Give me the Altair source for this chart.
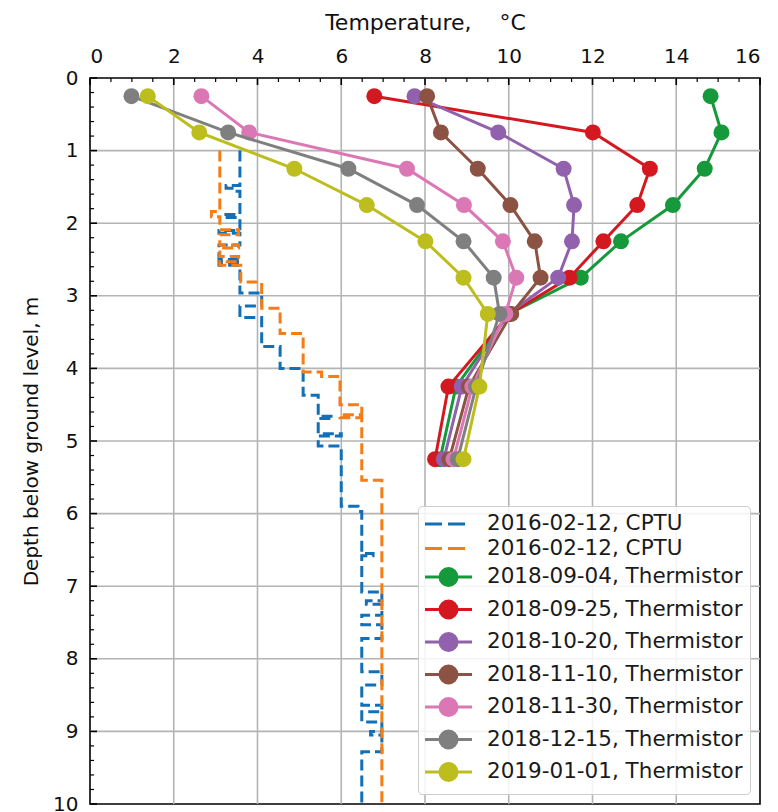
import altair as alt
import pandas as pd

# ---------------- data ----------------
therm_depths = [0.25, 0.75, 1.25, 1.75, 2.25, 2.75, 3.25, 4.25, 5.25]
therm_names = [
    "2018-09-04, Thermistor", "2018-09-25, Thermistor", "2018-10-20, Thermistor",
    "2018-11-10, Thermistor", "2018-11-30, Thermistor", "2018-12-15, Thermistor",
    "2019-01-01, Thermistor",
]
t_0904 = [14.82, 15.08, 14.68, 13.92, 12.68, 11.72, 10.00, 8.74, 8.36]
t_0925 = [6.79, 12.01, 13.37, 13.07, 12.26, 11.45, 10.02, 8.56, 8.24]
t_1020 = [7.75, 9.75, 11.31, 11.56, 11.51, 11.18, 9.98, 8.88, 8.45]
t_1110 = [8.05, 8.38, 9.26, 10.04, 10.62, 10.76, 10.06, 9.05, 8.58]
t_1130 = [2.66, 3.80, 7.57, 8.93, 9.86, 10.18, 9.92, 9.13, 8.68]
t_1215 = [0.99, 3.30, 6.17, 7.81, 8.92, 9.64, 9.78, 9.22, 8.78]
t_0101 = [1.38, 2.61, 4.88, 6.61, 8.01, 8.92, 9.50, 9.30, 8.92]
therm_temps = [t_0904, t_0925, t_1020, t_1110, t_1130, t_1215, t_0101]
therm_colors = ["#16993a", "#d3191f", "#9161ae", "#8c5243", "#dc77b6", "#7f7f7f", "#bdbd1e"]

cptu_names = ["2016-02-12, CPTU", "2016-02-12, CPTU "]
cptu_colors = ["#1170b8", "#f57d15"]

cptu1_temp = [3.58, 3.58, 3.25, 3.25, 3.45, 3.45, 3.58, 3.58, 3.20, 3.20, 3.58,
              3.58, 3.08, 3.08, 3.58, 3.58, 3.08, 3.08, 3.58, 3.58, 3.08, 3.08, 3.58,
              3.58, 4.10, 4.10, 3.58, 3.58, 4.10,
              4.10, 4.54, 4.54, 5.09, 5.09, 5.45, 5.45, 5.80, 5.80, 5.45, 5.45, 6.00,
              6.00, 5.45, 5.45, 6.00, 6.00, 6.40, 6.40, 6.49,
              6.49, 6.76, 6.76, 6.49, 6.49, 6.97, 6.97, 6.60, 6.60, 6.97, 6.97, 6.49,
              6.49, 6.97, 6.97, 6.49, 6.49, 6.97, 6.97, 6.49, 6.49, 6.97, 6.97, 6.49,
              6.49, 6.97, 6.97, 6.70, 6.70, 6.97, 6.97, 6.49, 6.49]
cptu1_depth = [1.00, 1.48, 1.48, 1.52, 1.52, 1.56, 1.56, 1.88, 1.88, 1.92, 1.92,
               2.10, 2.10, 2.14, 2.14, 2.30, 2.30, 2.50, 2.50, 2.54, 2.54, 2.58, 2.58,
               2.96, 2.96, 3.14, 3.14, 3.30, 3.30,
               3.70, 3.70, 4.00, 4.00, 4.37, 4.37, 4.66, 4.66, 4.69, 4.69, 4.90, 4.90,
               4.93, 4.93, 5.07, 5.07, 5.90, 5.90, 5.97, 5.97,
               6.55, 6.55, 6.58, 6.58, 7.08, 7.08, 7.20, 7.20, 7.25, 7.25, 7.40, 7.40,
               7.53, 7.53, 7.72, 7.72, 8.18, 8.18, 8.36, 8.36, 8.64, 8.64, 8.73, 8.73,
               8.87, 8.87, 9.00, 9.00, 9.05, 9.05, 9.28, 9.28, 10.00]

cptu2_temp = [3.10, 3.10, 2.90, 2.90, 3.10, 3.10, 3.55, 3.55, 3.10, 3.10, 3.55, 3.55,
              3.10, 3.10, 3.55, 3.55, 3.10, 3.10, 3.60, 3.60, 4.10, 4.10, 4.54, 4.54,
              5.09, 5.09, 5.53, 5.53, 5.97, 5.97, 6.49, 6.49, 5.97, 5.97, 6.49, 6.49,
              6.97, 6.97]
cptu2_depth = [1.00, 1.84, 1.84, 1.91, 1.91, 2.09, 2.09, 2.16, 2.16, 2.30, 2.30, 2.34,
               2.34, 2.46, 2.46, 2.53, 2.53, 2.58, 2.58, 2.81, 2.81, 3.17, 3.17, 3.52,
               3.52, 4.05, 4.05, 4.11, 4.11, 4.50, 4.50, 4.64, 4.64, 4.68, 4.68, 5.54,
               5.54, 10.00]
cptu_temps = [cptu1_temp, cptu2_temp]
cptu_depths = [cptu1_depth, cptu2_depth]

x_labels = [0, 2, 4, 6, 8, 10, 12, 14, 16]
y_labels = [0, 1, 2, 3, 4, 5, 6, 7, 8, 9, 10]
x_grid = [2, 4, 6, 8, 10, 12, 14]
y_grid = [1, 2, 3, 4, 5, 6, 7, 8, 9]
x_minor = [v / 2 for v in range(0, 33) if v % 4 != 0]
y_minor = [v / 5 for v in range(0, 51) if v % 5 != 0]

all_names = cptu_names + therm_names
all_colors = cptu_colors + therm_colors
legend_paths = ["M-1.158,0H0.632M1.263,0H3.053"] * 2 + [
    "M-1.158,0H3.789M2.211,0A0.895,0.895,0,1,1,0.421,0A0.895,0.895,0,1,1,2.211,0Z"] * 7

# ---------------- chart ----------------
FONT = "DejaVu Sans"
xscale = alt.Scale(domain=[0, 16], nice=False, zero=False)
yscale = alt.Scale(domain=[0, 10], nice=False, zero=False, reverse=True)
xaxis = alt.Axis(orient="top", values=x_labels,
                 title="Temperature,\u00a0\u00a0\u00a0\u00a0\u00b0C", grid=False,
                 ticks=False, domain=False, labelPadding=12, titlePadding=12, format="d",
                 titleFontSize=22)
yaxis = alt.Axis(values=y_labels, title="Depth below ground level, m", grid=False,
                 ticks=False, domain=False, labelPadding=12, titlePadding=11, format="d")


def X():
    return alt.X("temp:Q", scale=xscale, axis=xaxis)


def Y():
    return alt.Y("depth:Q", scale=yscale, axis=yaxis)


layers = []
layers.append(alt.Chart(pd.DataFrame({"temp": x_grid})).mark_rule(
    color="#b4b4b4", strokeWidth=1.6).encode(x=X()))
layers.append(alt.Chart(pd.DataFrame({"depth": y_grid})).mark_rule(
    color="#b4b4b4", strokeWidth=1.6).encode(y=Y()))

for temps, deps, col in zip(cptu_temps, cptu_depths, cptu_colors):
    df = pd.DataFrame({"temp": temps, "depth": deps, "i": list(range(len(temps)))})
    layers.append(alt.Chart(df).mark_line(color=col, strokeWidth=3, strokeDash=[11, 5]).encode(
        x=X(), y=Y(), order="i:Q"))

for temps, col in zip(therm_temps, therm_colors):
    df = pd.DataFrame({"temp": temps, "depth": therm_depths, "i": list(range(len(temps)))})
    base = alt.Chart(df)
    layers.append(base.mark_line(color=col, strokeWidth=3).encode(x=X(), y=Y(), order="i:Q"))
    layers.append(base.mark_circle(color=col, size=255, opacity=1).encode(x=X(), y=Y()))

# inward ticks
layers.append(alt.Chart(pd.DataFrame({"temp": x_labels})).mark_rule(color="black", strokeWidth=1.6)
              .encode(x=X(), y=alt.value(0), y2=alt.value(7)))
layers.append(alt.Chart(pd.DataFrame({"temp": x_minor})).mark_rule(color="black", strokeWidth=1.2)
              .encode(x=X(), y=alt.value(0), y2=alt.value(4)))
layers.append(alt.Chart(pd.DataFrame({"depth": y_labels})).mark_rule(color="black", strokeWidth=1.6)
              .encode(y=Y(), x=alt.value(0), x2=alt.value(7)))
layers.append(alt.Chart(pd.DataFrame({"depth": y_minor})).mark_rule(color="black", strokeWidth=1.2)
              .encode(y=Y(), x=alt.value(0), x2=alt.value(4)))

# legend layer (no marks drawn, legend from explicit scale domain)
leg = alt.Legend(title=None, orient="bottom-right", offset=10, labelFont=FONT, labelFontSize=21.5,
                 labelColor="#1a1a1a", symbolSize=361, symbolStrokeWidth=3, padding=7,
                 rowPadding=2.5, labelOffset=40, fillColor="rgba(255,255,255,0.85)",
                 strokeColor="#cccccc", cornerRadius=4, labelLimit=500, symbolOpacity=1)
cscale = alt.Scale(domain=all_names, range=all_colors)
legdf = pd.DataFrame({"series": all_names, "temp": [0.0] * 9, "depth": [0.0] * 9})
layers.append(alt.Chart(legdf).transform_filter("false").mark_point(filled=True, size=361, opacity=1)
              .encode(x=X(), y=Y(),
                      fill=alt.Fill("series:N", scale=cscale, legend=leg),
                      stroke=alt.Stroke("series:N", scale=cscale, legend=leg),
                      shape=alt.Shape("series:N", scale=alt.Scale(domain=all_names, range=legend_paths),
                                      legend=leg)))

chart = alt.layer(*layers).properties(
    width=670, height=726,
    autosize=alt.AutoSizeParams(type="none"),
    padding={"left": 82, "top": 70, "right": 10, "bottom": 8},
).configure_view(stroke="black", strokeWidth=1.6).configure_axis(
    labelFont=FONT, labelFontSize=20, labelColor="#111111",
    titleFont=FONT, titleFontSize=20, titleColor="#111111", titleFontWeight="normal",
)

chart.save("out.html", embed_options={"renderer": "svg", "actions": False})
